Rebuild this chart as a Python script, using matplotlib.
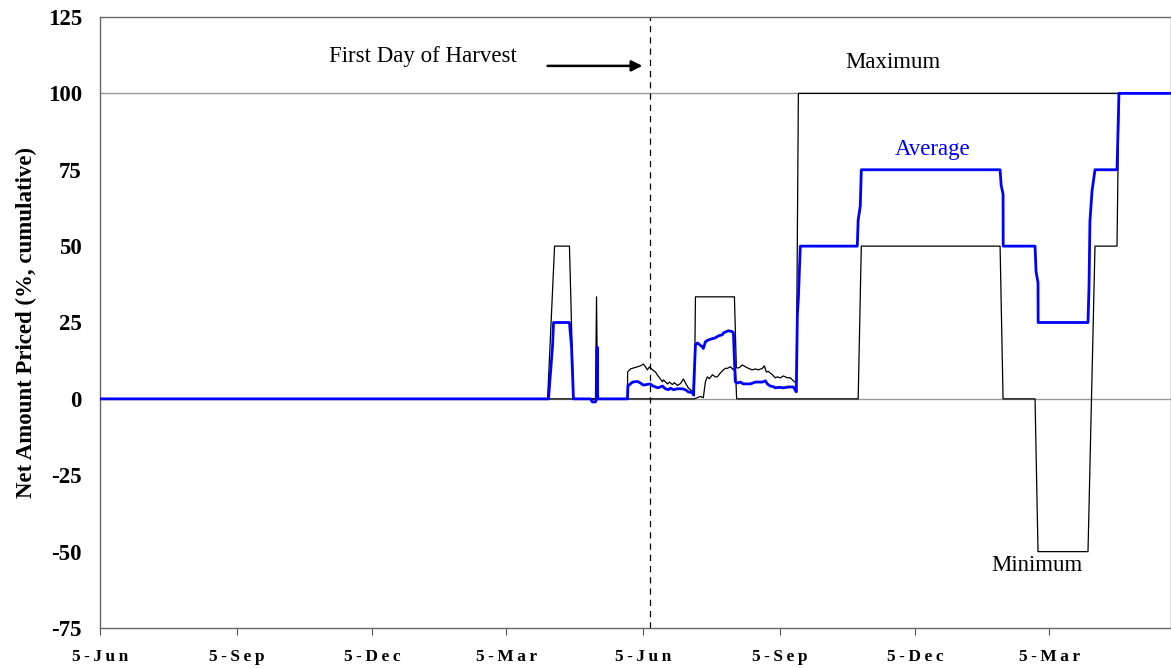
import numpy as np
import pandas as pd
import matplotlib
matplotlib.use("Agg")
import matplotlib.pyplot as plt

plt.rcParams['font.family'] = ['Liberation Serif', 'DejaVu Serif']

# day offsets counted from 5 June of the first season
start = pd.Timestamp("2001-06-05")
end_day = 720
harvest_day = 370

max_days = [0, 300.9, 305.6, 315.6, 318.3, 333.1, 333.8, 334.5, 354.6, 354.7, 356.6, 358.6,
            361.3, 363.3, 365.3, 366.7, 368.0, 369.4, 371.4, 373.4, 374.7, 376.1, 378.1,
            378.8, 381.5, 382.8, 384.8, 386.2, 388.2, 390.2, 392.2, 393.5, 395.5, 398.3,
            399.6, 400.3, 426.5, 427.8, 429.1, 430.5, 431.8, 433.9, 435.9, 438.5, 440.6,
            442.6, 445.3, 446.6, 448.0, 449.3, 452.0, 454.0, 455.3, 457.4, 459.4, 462.1,
            464.1, 466.1, 468.1, 469.5, 720]
max_vals = [0, 0, 50, 50, 0, 0, 33.4, 0, 0, 8.8, 9.8, 10.1,
            10.5, 10.8, 11.4, 10.5, 9.5, 10.5, 9.5, 8.8, 7.8, 6.9, 5.6,
            6.2, 4.9, 5.5, 4.7, 5.3, 4.4, 5.0, 6.5, 5.3, 3.6, 2.4,
            1.0, 33.4, 33.4, 10.2, 10.1, 10.5, 11.1, 10.5, 10.0, 9.5, 9.8,
            9.5, 10.0, 10.8, 8.8, 9.0, 7.9, 6.9, 7.2, 6.9, 7.5, 6.9,
            6.9, 5.9, 5.2, 100, 100]

min_days = [0, 399.6, 403.6, 405.6, 407.0, 408.3, 409.7, 411.7, 413.7, 415.0, 417.1, 419.1,
            420.4, 421.8, 423.8, 425.8, 427.1, 428.0, 509.7, 511.8, 605.1, 607.1, 628.6,
            630.6, 664.2, 668.9, 683.7, 685.0, 720]
min_vals = [0, 0, 0.8, 0.4, 5.6, 7.2, 6.6, 7.9, 7.2, 7.2, 8.5, 9.5,
            10.0, 10.0, 10.5, 9.5, 10.5, 0, 0, 50, 50, 0, 0,
            -50, -50, 50, 50, 100, 100]

avg_days = [0, 301.5, 304.2, 304.9, 315.6, 317.0, 318.3, 329.7, 331.0, 333.1, 333.8, 334.2,
            334.6, 354.6, 354.9, 358.0, 361.3, 363.3, 365.3, 369.8, 371.8, 375.1, 378.1,
            380.1, 382.1, 383.5, 385.5, 388.2, 391.5, 393.5, 395.5, 398.3, 398.9, 400.3,
            401.6, 405.0, 405.6, 407.0, 409.0, 410.3, 413.7, 415.7, 418.4, 419.1, 422.4,
            425.1, 425.8, 427.1, 428.5, 430.5, 432.5, 437.2, 440.6, 445.3, 447.3, 448.6,
            450.6, 452.7, 454.0, 456.7, 459.4, 462.7, 466.1, 467.4, 468.1, 468.8, 469.5,
            470.8, 509.1, 509.7, 511.1, 511.8, 605.1, 605.8, 607.1, 607.2, 628.6, 629.3,
            630.6, 630.7, 664.2, 664.9, 665.5, 666.9, 668.9, 683.7, 684.4, 685.0, 720]
avg_vals = [0, 0, 17, 25, 25, 17, 0, 0, -1, -1, 0, 17,
            0, 0, 4.2, 5.5, 5.7, 5.2, 4.5, 4.9, 4.2, 3.6, 4.2,
            3.3, 3.0, 3.5, 3.0, 3.3, 3.3, 3.0, 2.3, 2.0, 1.3, 17.7,
            18.3, 17.0, 16.5, 18.7, 19.3, 19.5, 20.0, 20.6, 21.0, 21.6, 22.3,
            22.0, 21.7, 5.6, 5.2, 5.5, 4.9, 4.9, 5.5, 5.5, 5.9, 4.9,
            4.2, 4.0, 3.6, 3.8, 3.6, 3.9, 3.9, 2.9, 2.3, 27, 33,
            50, 50, 58.6, 63, 75, 75, 70, 67, 50, 50, 41.6,
            38, 25, 25, 37, 58, 68, 75, 75, 88, 100, 100]

tick_days = [0, 92, 183, 273, 365, 457, 548, 638]
tick_labels = ["5-Jun", "5-Sep", "5-Dec", "5-Mar", "5-Jun", "5-Sep", "5-Dec", "5-Mar"]


def to_dates(days):
    return start + pd.to_timedelta(np.array(days), unit="D")


fig = plt.figure(figsize=(11.71, 6.69), dpi=100)
ax = fig.add_axes([100 / 1171, 1 - 628 / 669, 1071 / 1171, 611 / 669])

ax.axhline(0, color="#9a9a9a", lw=1, zorder=1)
ax.axhline(100, color="#9a9a9a", lw=1, zorder=1)

ax.plot(to_dates(max_days), max_vals, color="black", lw=0.9, zorder=2)
ax.plot(to_dates(min_days), min_vals, color="black", lw=0.9, zorder=2)
ax.plot(to_dates(avg_days), avg_vals, color="#0000ff", lw=2, zorder=3)

ax.axvline(to_dates([harvest_day])[0], color="black", lw=0.9, ls=(0, (5, 4)), zorder=2)

ax.set_xlim(to_dates([0])[0], to_dates([end_day])[0])
ax.set_ylim(-75, 125)
ax.set_yticks(range(-75, 126, 25))
ax.set_yticklabels([str(v) for v in range(-75, 126, 25)], fontsize=16.5, fontweight="bold")
ax.tick_params(axis="y", length=0, pad=13)

ax.set_xticks(to_dates(tick_days))
ax.set_xticklabels(["\u2009".join(t) for t in tick_labels], fontsize=12.5, fontweight="bold")
ax.tick_params(axis="x", length=5, direction="out", pad=10, color="#555555")

for s in ax.spines.values():
    s.set_color("#666666")
    s.set_linewidth(1)

ax.set_ylabel("Net Amount Priced (%, cumulative)", fontsize=16.5, fontweight="bold", labelpad=8)

ax.text(to_dates([217])[0], 112, "First Day of Harvest", fontsize=16.5, ha="center", va="center")
ax.annotate("", xy=(to_dates([366.5])[0], 109), xytext=(to_dates([299])[0], 109),
            arrowprops=dict(arrowstyle="-|>", color="black", lw=1.8, mutation_scale=16))
ax.text(to_dates([533])[0], 110, "Maximum", fontsize=16.5, ha="center", va="center")
ax.text(to_dates([560])[0], 81.5, "Average", fontsize=16.5, ha="center", va="center", color="#0000ff")
ax.text(to_dates([630])[0], -54.5, "Minimum", fontsize=16.5, ha="center", va="center")

fig.savefig("out.png", dpi=100)
